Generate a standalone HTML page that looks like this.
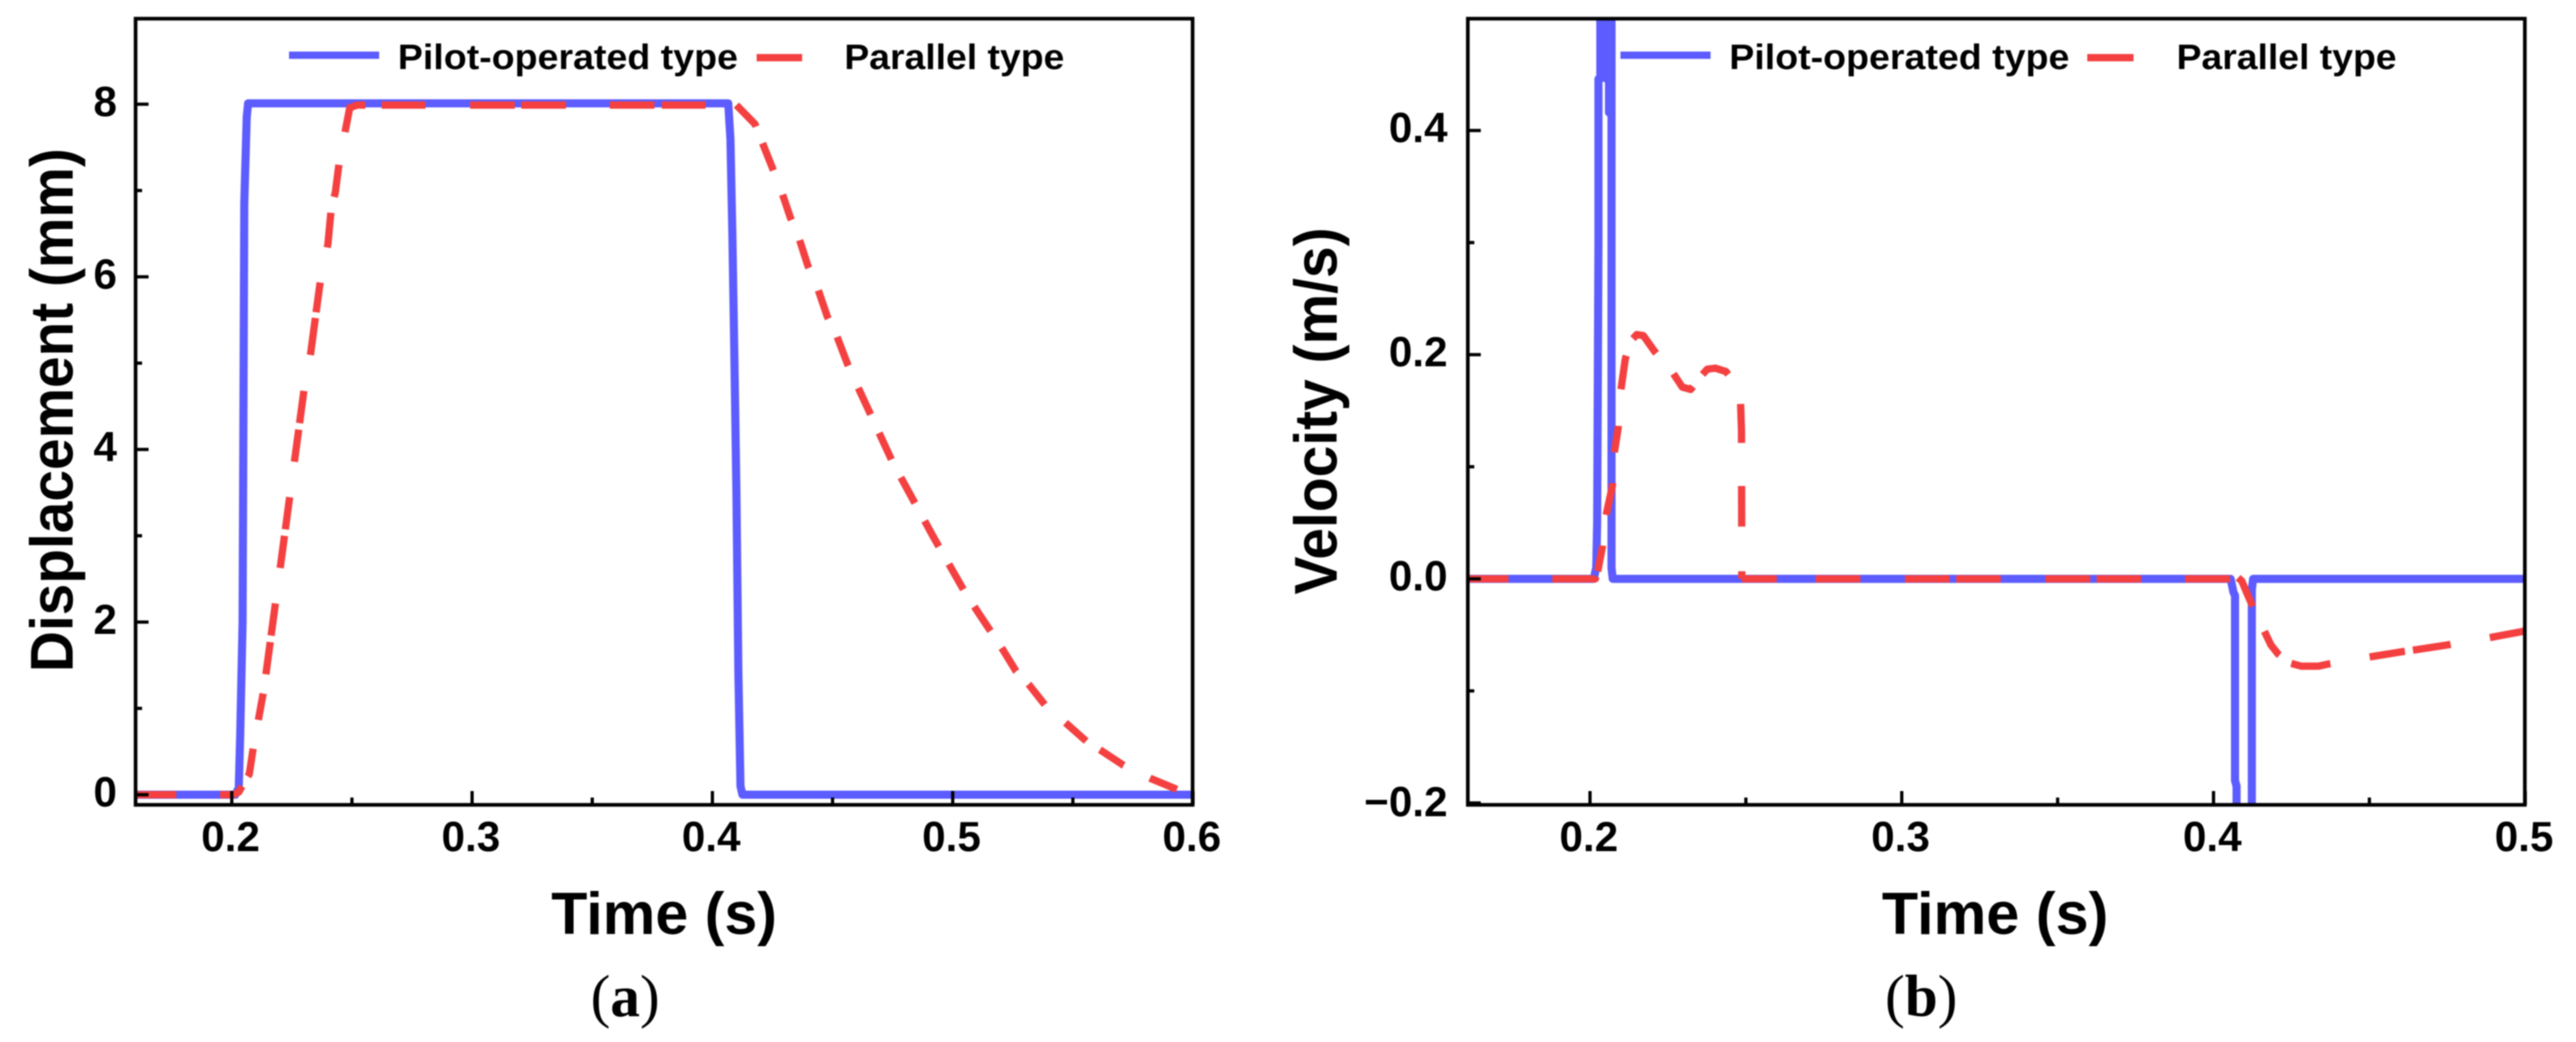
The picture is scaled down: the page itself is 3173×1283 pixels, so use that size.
<!DOCTYPE html>
<html lang="en">
<head>
<meta charset="utf-8">
<title>Displacement and velocity comparison</title>
<style>
html,body{margin:0;padding:0;background:#fff;width:3173px;height:1283px;overflow:hidden;}
#figure{display:block;filter:blur(0.7px);}
text{font-family:"Liberation Sans",Arial,sans-serif;fill:#000;}
.tick{font-size:52px;font-weight:700;}
.title{font-size:73px;font-weight:700;}
.leg{font-size:44px;font-weight:700;}
.cap{font-family:"Liberation Serif","Times New Roman",serif;font-size:73px;}
</style>
</head>
<body>
<svg id="figure" xmlns="http://www.w3.org/2000/svg" width="3173" height="1283" viewBox="0 0 3173 1283">
  <defs>
    <clipPath id="clipA"><rect x="169" y="25" width="1298" height="964"/></clipPath>
    <clipPath id="clipB"><rect x="1810" y="25" width="1298" height="964"/></clipPath>
  </defs>
  <rect x="0" y="0" width="3173" height="1283" fill="#fff"/>

  <g id="panel-a">
    <g id="dataA" clip-path="url(#clipA)"></g>
    <g id="axesA"></g>
    <text class="title" x="818" y="1150" text-anchor="middle" textLength="278" lengthAdjust="spacingAndGlyphs">Time (s)</text>
    <text class="title" style="font-size:74px" transform="translate(89.5,505) rotate(-90)" text-anchor="middle" textLength="645" lengthAdjust="spacingAndGlyphs">Displacement (mm)</text>
    <line x1="356" x2="467" y1="68" y2="68" stroke="#5c5cff" stroke-width="9"/>
    <text class="leg" x="490" y="85" textLength="419" lengthAdjust="spacingAndGlyphs">Pilot-operated type</text>
    <line x1="932" x2="988" y1="71" y2="71" stroke="#f44040" stroke-width="9"/>
    <text class="leg" x="1040" y="85" textLength="271" lengthAdjust="spacingAndGlyphs">Parallel type</text>
    <text class="cap" x="770" y="1251" text-anchor="middle">(<tspan font-weight="700">a</tspan>)</text>
  </g>

  <g id="panel-b">
    <g id="dataB" clip-path="url(#clipB)"></g>
    <g id="axesB"></g>
    <text class="title" x="2457.5" y="1150" text-anchor="middle" textLength="279" lengthAdjust="spacingAndGlyphs">Time (s)</text>
    <text class="title" style="font-size:74px" transform="translate(1646.5,506) rotate(-90)" text-anchor="middle" textLength="452" lengthAdjust="spacingAndGlyphs">Velocity (m/s)</text>
    <line x1="1996" x2="2107" y1="68" y2="68" stroke="#5c5cff" stroke-width="9"/>
    <text class="leg" x="2130" y="85" textLength="419" lengthAdjust="spacingAndGlyphs">Pilot-operated type</text>
    <line x1="2571" x2="2628" y1="71" y2="71" stroke="#f44040" stroke-width="9"/>
    <text class="leg" x="2681" y="85" textLength="271" lengthAdjust="spacingAndGlyphs">Parallel type</text>
    <text class="cap" x="2366.5" y="1251" text-anchor="middle">(<tspan font-weight="700">b</tspan>)</text>
  </g>
</svg>

<script>
// ---- Panel (a): displacement ----
const timeDispPilot = [0.16,0.2015,0.2029,0.2035,0.2045,0.2052,0.2062,0.2068,0.4066,0.4075,0.4083,0.4092,0.41,0.4108,0.4117,0.4125,0.6];
const dispPilot     = [0,0,0.08,0.7,2,6.85,7.85,8.01,8.01,7.6,6.5,5,3.5,1.4,0.1,0,0];
const timeDispParallel = [0.16,0.1951,0.2005,0.2029,0.2049,0.2073,0.2091,0.2113,0.2133,0.2218,0.2302,0.2329,0.235,0.237,0.24,0.2414,0.2431,0.2448,0.2475,0.2491,0.2522,0.2556,0.41,0.4177,0.4204,0.425,0.4289,0.4324,0.436,0.4397,0.4438,0.4478,0.4517,0.4562,0.4606,0.4752,0.4921,0.5056,0.5204,0.5264,0.5316,0.5384,0.5471,0.5556,0.5613,0.5711,0.5822,0.5934,0.6];
const dispParallel     = [0,0,0,0.03,0.13,0.24,0.57,0.9,1.21,2.97,4.72,5.13,5.57,5.98,6.38,6.79,6.98,7.35,7.73,7.96,7.99,7.99,7.99,7.77,7.58,7.26,6.98,6.69,6.45,6.13,5.87,5.54,5.32,4.99,4.72,3.84,2.98,2.32,1.7,1.43,1.28,1.04,0.83,0.62,0.52,0.34,0.19,0.06,0];
const xTicksMajorA = [0.2,0.3,0.4,0.5,0.6];
const xTicksMinorA = [0.25,0.35,0.45,0.55];
const yTicksMajorA = [0,2,4,6,8];
const yTicksMinorA = [1,3,5,7];

// ---- Panel (b): velocity ----
const timeVelPilot = [0.16,0.2012,0.202,0.2023,0.2027,0.2027,0.2033,0.2033,0.2054,0.2054,0.2058,0.2058,0.2061,0.2061,0.2069,0.2069,0.2069,0.2073,0.4055,0.4064,0.4069,0.4069,0.4074,0.4074,0.4095,0.4123,0.4123,0.4127,0.5];
const velPilot     = [0,0,0.01,0.05,0.3,0.446,0.446,0.505,0.505,0.446,0.446,0.505,0.505,0.416,0.416,0.505,0.01,0,0,-0.012,-0.015,-0.18,-0.185,-0.205,-0.21,-0.205,-0.01,0,0];
const timeVelParallel = [0.1608,0.2017,0.2025,0.204,0.2051,0.2072,0.2077,0.209,0.2098,0.2113,0.213,0.215,0.2171,0.2207,0.2263,0.2296,0.2323,0.2353,0.2376,0.2402,0.2436,0.2473,0.2483,0.2486,0.2487,0.4053,0.4079,0.4091,0.4112,0.4125,0.4162,0.4184,0.4207,0.4243,0.4282,0.4336,0.4368,0.4494,0.4605,0.4632,0.4751,0.4876,0.4991,0.5];
const velParallel     = [0,0,0.007,0.029,0.056,0.083,0.111,0.134,0.166,0.196,0.212,0.218,0.217,0.203,0.185,0.171,0.169,0.18,0.187,0.188,0.185,0.172,0.156,0.132,0,0,0.001,-0.002,-0.016,-0.024,-0.046,-0.059,-0.067,-0.075,-0.078,-0.078,-0.076,-0.07,-0.065,-0.064,-0.059,-0.053,-0.047,-0.046];
const xTicksMajorB = [0.2,0.3,0.4,0.5];
const xTicksMinorB = [0.25,0.35,0.45];
const yTicksMajorB = [-0.2,0,0.2,0.4];
const yTicksMinorB = [-0.1,0.1,0.3];

const NS = 'http://www.w3.org/2000/svg';
function scale(d0, d1, r0, r1) { return function (v) { return r0 + (v - d0) * (r1 - r0) / (d1 - d0); }; }
function make(tag, parent, attrs) {
  const e = document.createElementNS(NS, tag);
  for (const k in attrs) e.setAttribute(k, attrs[k]);
  parent.appendChild(e);
  return e;
}
function pathFrom(ts, vs, xf, yf, from, to) {
  let d = '';
  for (let i = 0; i < ts.length; i++) {
    if (ts[i] < from || ts[i] > to) continue;
    d += (d ? 'L' : 'M') + xf(ts[i]).toFixed(1) + ' ' + yf(vs[i]).toFixed(1);
  }
  return d;
}
function drawSolid(parent, ts, vs, xf, yf, color, name) {
  const p = make('path', parent, {d: pathFrom(ts, vs, xf, yf, -Infinity, Infinity), fill: 'none', stroke: color, 'stroke-width': 10, 'stroke-linejoin': 'round'});
  
  
}
function drawDashed(parent, ts, vs, xf, yf, color, sections, name) {
  sections.forEach(function (s) {
    const p = make('path', parent, {d: pathFrom(ts, vs, xf, yf, s[0], s[1]), fill: 'none', stroke: color, 'stroke-width': 9, 'stroke-linejoin': 'round', 'stroke-dasharray': s[2]});
    
    
  });
}
function drawAxes(parent, box, xf, yf, xMaj, xMin, yMaj, yMin, yLabelX, xLabelY, yLabelOffset, fmtX, fmtY, suffix) {
  const frame = make('rect', parent, {x: box.l, y: box.t, width: box.r - box.l, height: box.b - box.t, fill: 'none', stroke: '#000', 'stroke-width': 4.5});
  
  
  xMaj.forEach(function (v) {
    const t = make('line', parent, {x1: xf(v), x2: xf(v), y1: box.b, y2: box.b - 17, stroke: '#000', 'stroke-width': 4});
    
    
    const l = make('text', parent, {class: 'tick', x: xf(v) - 1.5, y: xLabelY, 'text-anchor': 'middle'});
    l.textContent = fmtX(v);
    
    
  });
  xMin.forEach(function (v) {
    const t = make('line', parent, {x1: xf(v), x2: xf(v), y1: box.b, y2: box.b - 9, stroke: '#000', 'stroke-width': 4});
    
    
  });
  yMaj.forEach(function (v) {
    const t = make('line', parent, {x1: box.l, x2: box.l + 16, y1: yf(v), y2: yf(v), stroke: '#000', 'stroke-width': 4});
    
    
    const l = make('text', parent, {class: 'tick', x: yLabelX, y: yf(v) + yLabelOffset + (v < 0 ? 2 : 0), 'text-anchor': 'end'});
    l.textContent = fmtY(v);
    
    
  });
  yMin.forEach(function (v) {
    const t = make('line', parent, {x1: box.l, x2: box.l + 8, y1: yf(v), y2: yf(v), stroke: '#000', 'stroke-width': 4});
    
    
  });
}

const BLUE = '#5c5cff', RED = '#f44040';

// Panel (a)
const xA = scale(0.2, 0.6, 285.5, 1469.5);
const yA = scale(0, 8, 978.5, 128.3);
const dataA = document.getElementById('dataA');
drawSolid(dataA, timeDispPilot, dispPilot, xA, yA, BLUE, 'line-pilot-operated-displacement');
drawDashed(dataA, timeDispParallel, dispParallel, xA, yA, RED, [
  [0.16, 0.2556, '50 54 32 14 35 36 33 24 40 8 40 44 40 8 40 44 40 8 40 45 46 7 37 44 43 20 40 41 100 0'],
  [0.2556, 0.41, '0 20 54 55 55 8 55 54 55 9 54 100'],
  [0.41, 0.6, '36 22 36 32 33 27 36 30 37 25 38 30 36 25 36 25 36 25 36 25 36 25 36 25 34 22 32 34 34 20 35 36 36 60']
], 'line-parallel-displacement');
drawAxes(document.getElementById('axesA'), {l: 167, t: 23, r: 1469, b: 991}, xA, yA,
  xTicksMajorA, xTicksMinorA, yTicksMajorA, yTicksMinorA, 144, 1048, 14.5,
  function (v) { return v.toFixed(1); }, function (v) { return String(v); }, 'a');

// Panel (b)
const xB = scale(0.2, 0.5, 1958.5, 3110.5);
const yB = scale(0, 0.4, 712.7, 160.7);
const dataB = document.getElementById('dataB');
drawSolid(dataB, timeVelPilot, velPilot, xB, yB, BLUE, 'line-pilot-operated-velocity');
drawDashed(dataB, timeVelParallel, velParallel, xB, yB, RED, [
  [0.16, 0.2483, '50 54 56 7 32 38 40 38 33 45 42 23 42 33 35 19 37 45'],
  [0.2483, 0.2487, '48 53 50 55 100 0'],
  [0.2487, 0.4053, '43 48 55 55 55 8 55 55 55 8 55 54 56 10'],
  [0.4053, 0.5, '0 10 40 34 35 18 49 49 44 10 47 49 60 0']
], 'line-parallel-velocity');
drawAxes(document.getElementById('axesB'), {l: 1808, t: 23, r: 3110, b: 991}, xB, yB,
  xTicksMajorB, xTicksMinorB, yTicksMajorB, yTicksMinorB, 1783, 1048, 14.5,
  function (v) { return v.toFixed(1); },
  function (v) { return (v < 0 ? '\u2212' : '') + Math.abs(v).toFixed(1); }, 'b');
</script>
</body>
</html>
